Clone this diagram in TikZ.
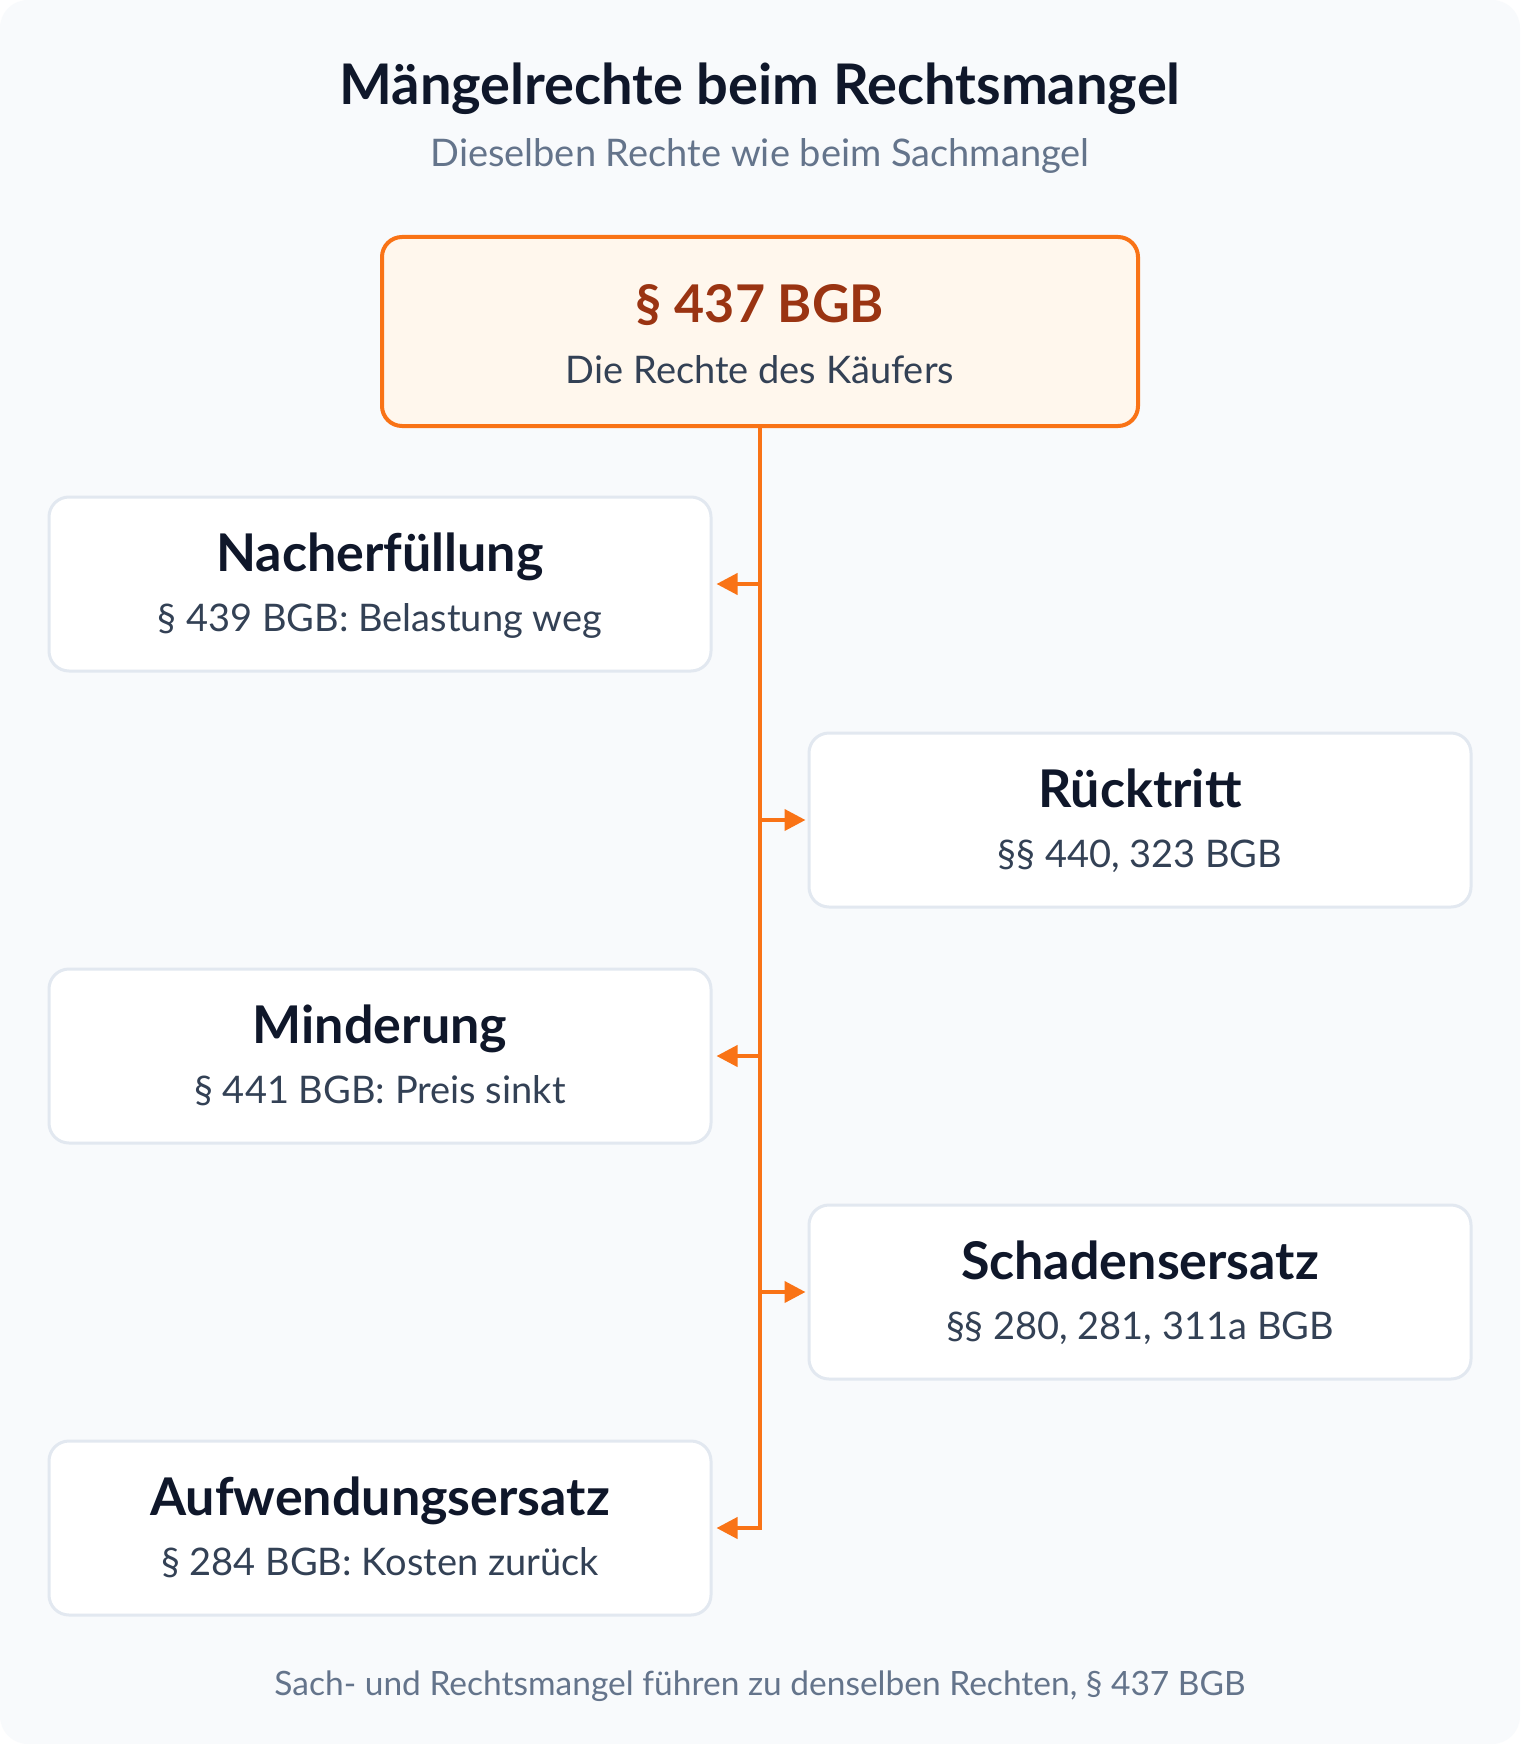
\documentclass[tikz,border=0pt]{standalone}
\usepackage{fontspec}
\setmainfont{Lato}
\usetikzlibrary{arrows.meta,calc}
\definecolor{bgc}{HTML}{F8FAFC}
\definecolor{orangec}{HTML}{F97316}
\definecolor{orangefill}{HTML}{FFF7ED}
\definecolor{orangetext}{HTML}{9A3412}
\definecolor{darkc}{HTML}{0F172A}
\definecolor{slatec}{HTML}{334155}
\definecolor{greyc}{HTML}{64748B}
\definecolor{borderc}{HTML}{E2E8F0}
\tikzset{
  txt/.style={inner sep=0pt, anchor=base},
  titletxt/.style={txt, font=\fontsize{56}{64}\selectfont\bfseries, text=darkc},
  subtxt/.style={txt, font=\fontsize{38}{44}\selectfont, text=greyc},
  headtxt/.style={txt, font=\fontsize{52}{60}\selectfont\bfseries, text=darkc},
  reftxt/.style={txt, font=\fontsize{38}{44}\selectfont, text=slatec},
  foottxt/.style={txt, font=\fontsize{33.5}{40}\selectfont, text=greyc},
  rightbox/.style={draw=borderc, line width=3pt, fill=white, rounded corners=20pt,
    minimum width=662pt, minimum height=174pt, inner sep=0pt},
  topbox/.style={draw=orangec, line width=4pt, fill=orangefill, rounded corners=20pt,
    minimum width=756pt, minimum height=189pt, inner sep=0pt},
  conn/.style={draw=orangec, line width=4pt, -{Triangle[length=21pt,width=21pt]}},
}
\begin{document}
\begin{tikzpicture}[x=1pt,y=-1pt]
\useasboundingbox (0,0) rectangle (1520,1744);
\fill[white] (0,0) rectangle (1520,1744);
\fill[bgc, rounded corners=28pt] (0,0) rectangle (1520,1744);

\node[titletxt] (title) at (760,105) {Mängelrechte beim Rechtsmangel};
\node[subtxt] (subtitle) at (760,167) {Dieselben Rechte wie beim Sachmangel};

\node[topbox] (top) at (760,331.5) {};
\node[txt, font=\fontsize{52}{60}\selectfont\bfseries, text=orangetext] (toph) at (760,322) {§ 437 BGB};
\node[reftxt] (tops) at (760,383) {Die Rechte des Käufers};

\node[rightbox] (b1) at (380,584) {};
\node[headtxt] (b1h) at (380,571) {Nacherfüllung};
\node[reftxt] (b1s) at (380,631) {§ 439 BGB: Belastung weg};

\node[rightbox] (b2) at (1140,820) {};
\node[headtxt] (b2h) at (1140,807) {Rücktritt};
\node[reftxt] (b2s) at (1140,867) {§§ 440, 323 BGB};

\node[rightbox] (b3) at (380,1056) {};
\node[headtxt] (b3h) at (380,1043) {Minderung};
\node[reftxt] (b3s) at (380,1103) {§ 441 BGB: Preis sinkt};

\node[rightbox] (b4) at (1140,1292) {};
\node[headtxt] (b4h) at (1140,1279) {Schadensersatz};
\node[reftxt] (b4s) at (1140,1339) {§§ 280, 281, 311a BGB};

\node[rightbox] (b5) at (380,1528) {};
\node[headtxt] (b5h) at (380,1515) {Aufwendungsersatz};
\node[reftxt] (b5s) at (380,1575) {§ 284 BGB: Kosten zurück};

\node[foottxt] (foot) at (760,1695) {Sach- und Rechtsmangel führen zu denselben Rechten, § 437 BGB};

\coordinate (s1) at (760,584);
\coordinate (s2) at (760,820);
\coordinate (s3) at (760,1056);
\coordinate (s4) at (760,1292);

\draw[conn, line join=miter, shorten >=4pt] (top.south) |- (b5.east);
\draw[conn, shorten >=4pt] (s1) -- (b1.east);
\draw[conn, shorten >=2pt] (s2) -- (b2.west);
\draw[conn, shorten >=4pt] (s3) -- (b3.east);
\draw[conn, shorten >=2pt] (s4) -- (b4.west);
\end{tikzpicture}
\end{document}
